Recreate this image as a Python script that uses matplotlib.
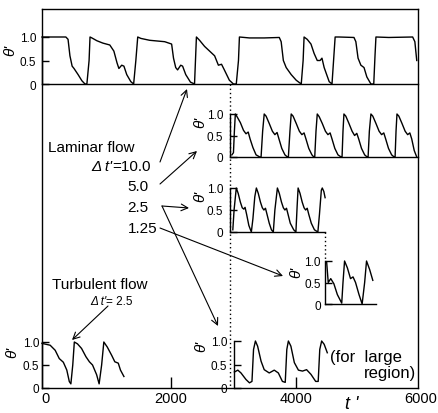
import matplotlib
matplotlib.use("Agg")
import matplotlib.pyplot as plt

plt.rcParams['font.family'] = ['Liberation Sans', 'DejaVu Sans']
plt.rcParams['axes.linewidth'] = 1.0

# ---- data: t' and theta' ----
# laminar, dt'=10.0 (top strip)
top_t = [-50, 330, 365, 395, 430, 460, 525, 585, 635, 665, 700, 715, 745, 825, 920, 1030,
         1095, 1145, 1175, 1220, 1255, 1300, 1365, 1410, 1445, 1475, 1525, 1665, 1905, 2015,
         2045, 2080, 2110, 2160, 2190, 2240, 2315, 2380, 2395, 2410, 2460, 2540, 2620, 2700,
         2760, 2810, 2855, 2935, 3000, 3045, 3080, 3095, 3255, 3490, 3730, 3760, 3795, 3840,
         3920, 4000, 4080, 4110, 4125, 4175, 4235, 4285, 4335, 4380, 4410, 4445, 4525, 4570,
         4600, 4620, 4680, 4920, 4950, 4985, 5030, 5080, 5125, 5190, 5235, 5255, 5270, 5475,
         5855, 5890, 5920]
top_th = [1.0, 1.0, 0.95, 0.6, 0.38, 0.33, 0.2, 0.07, 0.0, 0.0, 0.5, 1.0, 0.98, 0.92, 0.87, 0.83,
          0.7, 0.45, 0.33, 0.4, 0.38, 0.2, 0.05, 0.0, 0.5, 1.0, 0.97, 0.93, 0.9, 0.85,
          0.55, 0.35, 0.3, 0.4, 0.38, 0.2, 0.04, 0.0, 0.5, 1.0, 0.93, 0.8, 0.7, 0.6,
          0.4, 0.42, 0.3, 0.08, 0.0, 0.0, 0.5, 1.0, 0.98, 0.98, 0.99, 0.9, 0.5, 0.35,
          0.2, 0.08, 0.0, 0.5, 1.0, 0.95, 0.85, 0.65, 0.5, 0.5, 0.55, 0.35, 0.05, 0.0,
          0.6, 1.0, 1.0, 0.99, 0.9, 0.55, 0.4, 0.35, 0.15, 0.0, 0.0, 0.6, 1.0, 0.99,
          1.0, 0.9, 0.5]

# laminar, dt'=5.0
p5_t = [2975, 3000, 3015, 3030,
        3060, 3110, 3160, 3200, 3235, 3265, 3310, 3360, 3420, 3440, 3465, 3490,
        3520, 3570, 3620, 3660, 3695, 3725, 3770, 3820, 3860, 3875, 3900, 3920,
        3950, 4000, 4050, 4090, 4125, 4155, 4200, 4250, 4280, 4295, 4315, 4335,
        4365, 4415, 4465, 4505, 4540, 4570, 4615, 4665, 4715, 4730, 4745, 4760,
        4790, 4840, 4890, 4930, 4965, 4995, 5040, 5090, 5130, 5145, 5165, 5190,
        5220, 5270, 5320, 5360, 5395, 5425, 5470, 5520, 5560, 5575, 5590, 5605,
        5635, 5685, 5735, 5775, 5810, 5840, 5880, 5920]
p5_th = [0.05, 0.1, 0.6, 1.0,
         0.93, 0.8, 0.62, 0.54, 0.58, 0.42, 0.22, 0.05, 0.0, 0.0, 0.6, 1.0,
         0.95, 0.78, 0.6, 0.52, 0.57, 0.42, 0.2, 0.05, 0.0, 0.0, 0.6, 1.0,
         0.95, 0.78, 0.6, 0.52, 0.56, 0.42, 0.2, 0.05, 0.0, 0.0, 0.6, 1.0,
         0.94, 0.78, 0.6, 0.52, 0.56, 0.42, 0.2, 0.05, 0.0, 0.0, 0.6, 1.0,
         0.95, 0.78, 0.6, 0.5, 0.55, 0.42, 0.2, 0.05, 0.0, 0.0, 0.6, 1.0,
         0.95, 0.78, 0.6, 0.52, 0.56, 0.42, 0.2, 0.05, 0.0, 0.0, 0.6, 1.0,
         0.95, 0.78, 0.6, 0.52, 0.56, 0.42, 0.15, 0.0]

# laminar, dt'=2.5
p25_t = [2990, 3010, 3045, 3075, 3110, 3140, 3165, 3185, 3210, 3245, 3285, 3310, 3340,
         3365, 3395, 3430, 3460, 3485, 3510, 3535, 3570, 3605, 3635, 3660, 3700, 3730,
         3765, 3795, 3820, 3845, 3870, 3905, 3960, 3995, 4015, 4030, 4060, 4095, 4125,
         4150, 4175, 4200, 4240, 4290, 4345, 4370, 4400, 4415, 4440, 4460]
p25_th = [0.05, 0.5, 1.0, 0.88, 0.68, 0.55, 0.52, 0.56, 0.4, 0.15, 0.0, 0.3, 0.8,
          1.0, 0.88, 0.68, 0.55, 0.5, 0.54, 0.4, 0.2, 0.05, 0.0, 0.5, 1.0, 0.88,
          0.68, 0.55, 0.5, 0.54, 0.4, 0.2, 0.05, 0.0, 0.6, 1.0, 0.88, 0.68, 0.55,
          0.5, 0.54, 0.4, 0.2, 0.05, 0.0, 0.4, 0.95, 1.0, 0.92, 0.78]

# laminar, dt'=1.25
p125_t = [4485, 4510, 4550, 4600, 4655, 4725, 4745, 4770, 4815, 4865, 4905, 4945,
          5000, 5050, 5090, 5120, 5170, 5220]
p125_th = [0.97, 0.5, 0.59, 0.47, 0.22, 0.02, 0.5, 1.0, 0.84, 0.59, 0.63, 0.5,
           0.22, 0.0, 0.5, 1.0, 0.8, 0.55]

# laminar, dt'=2.5, large region
big_t = [3015, 3070, 3120, 3200, 3255, 3295, 3320, 3350, 3385, 3440, 3490, 3570, 3650,
         3715, 3780, 3825, 3850, 3875, 3915, 3970, 4035, 4100, 4165, 4235, 4310, 4350,
         4375, 4405, 4445, 4495]
big_th = [0.34, 0.38, 0.32, 0.18, 0.11, 0.14, 0.82, 1.0, 0.89, 0.57, 0.39, 0.32, 0.38,
          0.32, 0.14, 0.12, 0.82, 1.0, 0.89, 0.54, 0.38, 0.36, 0.39, 0.29, 0.14, 0.14,
          0.82, 1.0, 0.93, 0.75]

# turbulent, dt'=2.5
tur_t = [-50, 80, 160, 225, 290, 345, 385, 410, 440, 465, 515, 580, 650, 705, 755, 820,
         860, 900, 935, 990, 1060, 1110, 1165, 1200, 1255]
tur_th = [0.97, 0.93, 0.82, 0.64, 0.56, 0.39, 0.14, 0.09, 0.5, 1.0, 0.96, 0.86, 0.68,
          0.57, 0.5, 0.29, 0.09, 0.5, 1.0, 0.89, 0.71, 0.57, 0.54, 0.39, 0.25]

xticks = [0, 2000, 4000]
xtick_labels = ['0', '2000', '4000']
th_ticks = [0, 0.5, 1.0]
th_labels = ['0', '0.5', '1.0']

# ---- layout (pixels) ----
W, H = 439, 414
fig = plt.figure(figsize=(W / 100, H / 100), dpi=100)

X0, X1, YT, YB = 42, 418, 10, 389
T0, T1 = -50, 5940


def tpx(t):
    return X0 + (t - T0) * (X1 - X0) / (T1 - T0)


def box(x0, y_top, x1, y_bot):
    return [x0 / W, 1 - y_bot / H, (x1 - x0) / W, (y_bot - y_top) / H]


def yfrac(py):
    return (YB - py) / (YB - YT)


def txt(x, y, s, **kw):
    kw.setdefault('va', 'center')
    kw.setdefault('fontsize', 11)
    return fig.text(x / W, 1 - y / H, s, **kw)


main = fig.add_axes(box(X0, YT, X1, YB))
main.set_xlim(T0, T1)
main.set_ylim(0, 1)
main.set_yticks([])
main.set_xticks(xticks, xtick_labels)
main.tick_params(axis='x', direction='in', length=8, width=1, pad=2, labelsize=10.5)
main.xaxis.get_major_ticks()[0].tick1line.set_visible(False)
txt(421, 399, '6000', ha='center', fontsize=10.5)
txt(352, 405, "t '", ha='center', fontsize=13, style='italic')

# dotted guides
main.plot([2950, 2950], [yfrac(85), 0], color='k', lw=1, ls=(0, (1, 2)))
main.plot([4460, 4460], [yfrac(233), yfrac(262)], color='k', lw=1, ls=(0, (1, 2)))


def panel(t0, t1, ybase, ytop, t, th, pad, bottom=True):
    ax = fig.add_axes(box(tpx(t0), ytop, tpx(t1), ybase))
    ax.set_xlim(t0, t1)
    ax.set_ylim(0, 1)
    ax.patch.set_alpha(0)
    ax.plot(t, th, color='k', lw=1, clip_on=False)
    ax.spines['top'].set_visible(False)
    ax.spines['right'].set_visible(False)
    ax.spines['bottom'].set_visible(bottom)
    ax.set_xticks([])
    ax.set_yticks(th_ticks, th_labels)
    ax.tick_params(axis='y', direction='in', length=5, width=1, pad=pad, labelsize=8.5)
    return ax


panel(T0, T1, 85, 38, top_t, top_th, 4)
panel(2950, T1, 158, 115, p5_t, p5_th, 5)
panel(2950, 4460, 233, 189, p25_t, p25_th, 5)
panel(4460, 5270, 305, 262, p125_t, p125_th, 3)
panel(3010, 4500, 389, 342, big_t, big_th, 5, bottom=False)
panel(T0, 1300, 389, 343, tur_t, tur_th, 2, bottom=False)

# theta' labels
for x, y in [(10, 50), (200, 122), (200, 196), (296, 272), (201, 346), (12, 352)]:
    txt(x, y, "θ'", rotation=90, ha='center', style='italic')

# annotations
txt(48, 148, 'Laminar flow')
txt(112, 167, "Δ t'", ha='right', style='italic')
txt(112, 167, '=10.0', ha='left')
txt(127, 187, '5.0')
txt(127, 208, '2.5')
txt(128, 229, '1.25')
txt(52, 285, 'Turbulent flow')
txt(106, 302, "Δ t'", ha='right', style='italic', fontsize=8.5)
txt(106, 302, '= 2.5', ha='left', fontsize=8.5)
txt(330, 358, '(for  large', fontsize=12)
txt(416, 374, 'region)', ha='right', fontsize=12)

arrows = [((160, 163), (187, 90)), ((160, 185), (197, 152)), ((162, 207), (189, 209)),
          ((162, 207), (218, 327)), ((160, 229), (283, 277)), ((108, 307), (72, 341))]
for (sx, sy), (hx, hy) in arrows:
    main.annotate('', xy=(hx, H - hy), xycoords='figure pixels',
                  xytext=(sx, H - sy), textcoords='figure pixels',
                  arrowprops=dict(arrowstyle='->', lw=0.8, color='k',
                                  shrinkA=0, shrinkB=0, mutation_scale=12),
                  annotation_clip=False)

fig.savefig('out.png', dpi=100)
